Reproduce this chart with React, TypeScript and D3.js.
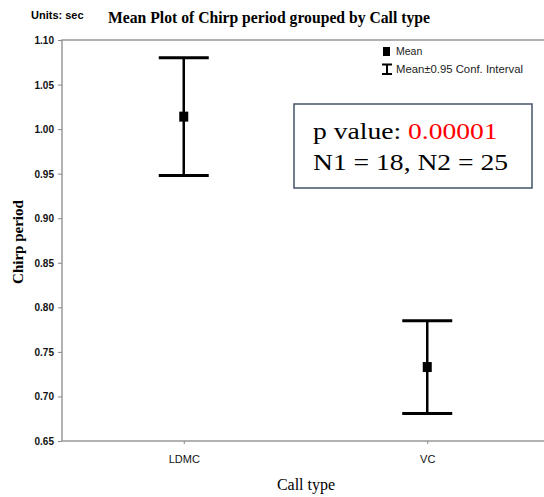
import * as d3 from 'd3'
import { useRef, useEffect } from "react"

const categories = ['LDMC', 'VC']
const means = [1.014, 0.733]
const upper = [1.080, 0.785]
const lower = [0.948, 0.681]
const yTicks = [0.65, 0.70, 0.75, 0.80, 0.85, 0.90, 0.95, 1.00, 1.05, 1.10]

export default function App() {
    const svgRef = useRef(null)

    useEffect(() => {
        const svg = d3.select(svgRef.current)
        svg.selectAll('*').remove()

        const left = 62, right = 549, top = 40, bottom = 441

        const x = d3.scalePoint().domain(categories).range([left, right]).padding(0.5)
        const y = d3.scaleLinear().domain([0.65, 1.10]).range([bottom, top])

        const sans = 'Arial, "Liberation Sans", sans-serif'
        const serif = '"Times New Roman", "Liberation Serif", serif'

        // frame
        svg.append('path')
            .attr('d', `M${right},${top}H${left}V${bottom}H${right}`)
            .attr('fill', 'none').attr('stroke', '#999').attr('stroke-width', 1.5)

        const yAxis = svg.append('g')
            .attr('transform', `translate(${left},0)`)
            .call(d3.axisLeft(y).tickValues(yTicks).tickFormat(d3.format('.2f')).tickSize(4).tickPadding(4))
        yAxis.select('.domain').remove()
        yAxis.selectAll('line').attr('stroke', '#888')
        yAxis.selectAll('text').attr('font-family', sans).attr('font-size', 11)
            .attr('font-weight', 'bold').attr('fill', '#111')
            .attr('textLength', 19.5).attr('lengthAdjust', 'spacingAndGlyphs')

        const xAxis = svg.append('g')
            .attr('transform', `translate(0,${bottom})`)
            .call(d3.axisBottom(x).tickSize(3).tickPadding(11))
        xAxis.select('.domain').remove()
        xAxis.selectAll('line').attr('stroke', '#888')
        xAxis.selectAll('text').attr('font-family', sans).attr('font-size', 11).attr('fill', '#111')

        // error bars
        const g = svg.append('g')
        const cap = 25
        categories.forEach((c, i) => {
            const cx = x(c)
            g.append('line').attr('x1', cx).attr('x2', cx)
                .attr('y1', y(upper[i])).attr('y2', y(lower[i]))
                .attr('stroke', '#000').attr('stroke-width', 2.5)
            g.append('line').attr('x1', cx - cap).attr('x2', cx + cap)
                .attr('y1', y(upper[i])).attr('y2', y(upper[i]))
                .attr('stroke', '#000').attr('stroke-width', 3)
            g.append('line').attr('x1', cx - cap).attr('x2', cx + cap)
                .attr('y1', y(lower[i])).attr('y2', y(lower[i]))
                .attr('stroke', '#000').attr('stroke-width', 3)
            g.append('rect').attr('x', cx - 4.5).attr('y', y(means[i]) - 5)
                .attr('width', 9).attr('height', 10).attr('fill', '#000')
        })

        // titles
        svg.append('text').attr('x', 31).attr('y', 19).text('Units: sec')
            .attr('font-family', sans).attr('font-size', 11).attr('font-weight', 'bold')
        svg.append('text').attr('x', 108).attr('y', 23).text('Mean Plot of Chirp period grouped by Call type')
            .attr('font-family', serif).attr('font-size', 15.8).attr('font-weight', 'bold')
            .attr('textLength', 322).attr('lengthAdjust', 'spacingAndGlyphs')
        svg.append('text').attr('transform', 'translate(23,242) rotate(-90)')
            .attr('text-anchor', 'middle').text('Chirp period')
            .attr('font-family', serif).attr('font-size', 15).attr('font-weight', 'bold')
        svg.append('text').attr('x', 306).attr('y', 490).attr('text-anchor', 'middle').text('Call type')
            .attr('font-family', serif).attr('font-size', 16)

        // legend
        svg.append('rect').attr('x', 383).attr('y', 47).attr('width', 7).attr('height', 9).attr('fill', '#000')
        svg.append('text').attr('x', 396).attr('y', 55).text('Mean')
            .attr('font-family', sans).attr('font-size', 10.5).attr('fill', '#222')
        svg.append('path').attr('d', 'M382,64.5H392M387,64.5V74M382,74H392')
            .attr('stroke', '#000').attr('stroke-width', 2).attr('fill', 'none')
        svg.append('text').attr('x', 396).attr('y', 73).text('Mean±0.95 Conf. Interval')
            .attr('font-family', sans).attr('font-size', 10.5).attr('fill', '#222')
            .attr('textLength', 127).attr('lengthAdjust', 'spacingAndGlyphs')

        // annotation box
        svg.append('rect').attr('x', 294).attr('y', 104).attr('width', 238).attr('height', 84)
            .attr('fill', '#fff').attr('stroke', '#44546a').attr('stroke-width', 1.5)
        const t1 = svg.append('text').attr('transform', 'translate(313,139) scale(1.2,1)')
            .attr('font-family', serif).attr('font-size', 23)
        t1.append('tspan').text('p value: ')
        t1.append('tspan').attr('fill', '#ff0000').text('0.00001')
        svg.append('text').attr('transform', 'translate(313,170) scale(1.2,1)').text('N1 = 18, N2 = 25')
            .attr('font-family', serif).attr('font-size', 23)
    }, [])

    return (
        <svg ref={svgRef} width={544} height={497}
            style={{ display: 'block', position: 'absolute', left: 0, top: 0, background: '#fff' }}></svg>
    )
}
